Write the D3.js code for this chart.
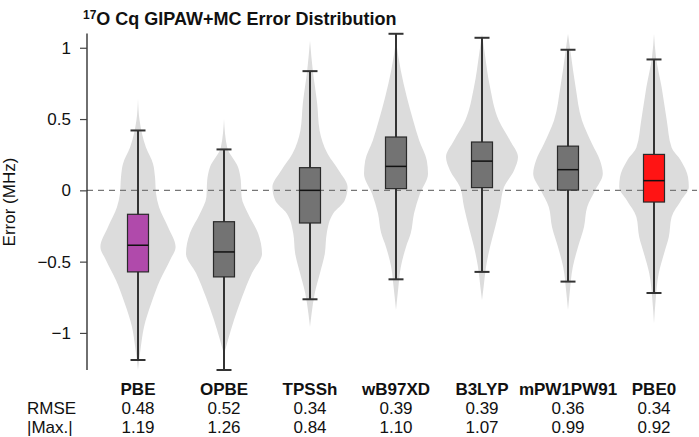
<!DOCTYPE html>
<html>
<head>
<meta charset="utf-8">
<script src="https://cdn.jsdelivr.net/npm/d3@7"></script>
<style>
  body { margin: 0; background: #fff; }
  svg { display: block; font-family: "Liberation Sans", Arial, Helvetica, sans-serif; }
</style>
</head>
<body>
<div id="chart"></div>
<script>
// Width and height for the SVG
var width = 699, height = 437;

// Methods along the x axis
var methods = ["PBE", "OPBE", "TPSSh", "wB97XD", "B3LYP", "mPW1PW91", "PBE0"];

// Box plot statistics (MHz)
var whiskerLow  = [-1.19, -1.26, -0.764, -0.624, -0.572, -0.64, -0.72];
var quart1      = [-0.572, -0.607, -0.229, 0.012, 0.019, 0.002, -0.082];
var medians     = [-0.385, -0.432, 0.0, 0.168, 0.205, 0.145, 0.068];
var quart3      = [-0.168, -0.22, 0.159, 0.374, 0.339, 0.31, 0.252];
var whiskerHigh = [0.42, 0.287, 0.836, 1.098, 1.07, 0.986, 0.918];

// Violin outlines: [error, relative density]
var densPBE = [[0.645,0],[0.49,0.04],[0.30,0.2],[0.187,0.375],[0.093,0.425],[-0.02,0.45],[-0.117,0.525],
  [-0.257,0.75],[-0.397,0.94],[-0.49,0.8],[-0.63,0.55],[-0.794,0.33],[-0.958,0.15],[-1.098,0.07],[-1.26,0]];
var densOPBE = [[0.50,0],[0.30,0.08],[0.163,0.35],[0.07,0.42],[-0.047,0.44],[-0.163,0.6],[-0.30,0.85],
  [-0.444,0.95],[-0.58,0.7],[-0.75,0.45],[-0.91,0.25],[-1.05,0.1],[-1.15,0]];
var densTPSSh = [[1.05,0],[0.84,0.07],[0.607,0.18],[0.42,0.24],[0.257,0.44],[0.14,0.72],[0.023,0.94],
  [-0.07,0.87],[-0.163,0.58],[-0.30,0.42],[-0.444,0.37],[-0.58,0.25],[-0.72,0.12],[-0.864,0.04],[-0.958,0]];
var densWB97XD = [[1.05,0],[0.84,0.12],[0.654,0.27],[0.49,0.43],[0.35,0.58],[0.21,0.77],[0.117,0.8],
  [-0.023,0.6],[-0.163,0.45],[-0.30,0.37],[-0.397,0.25],[-0.537,0.12],[-0.678,0.06],[-0.84,0]];
var densB3LYP = [[1.098,0],[0.958,0.07],[0.724,0.2],[0.49,0.42],[0.35,0.7],[0.233,0.9],[0.14,0.8],
  [0.023,0.55],[-0.117,0.45],[-0.257,0.33],[-0.397,0.2],[-0.537,0.1],[-0.678,0.04],[-0.77,0]];
var densMPW1PW91 = [[1.098,0],[0.958,0.07],[0.724,0.19],[0.49,0.35],[0.327,0.6],[0.21,0.8],[0.117,0.87],
  [0,0.68],[-0.117,0.48],[-0.257,0.4],[-0.397,0.25],[-0.537,0.12],[-0.724,0.04],[-0.84,0]];
var densPBE0 = [[1.098,0],[0.934,0.05],[0.724,0.19],[0.49,0.32],[0.30,0.44],[0.21,0.67],[0.093,0.85],
  [0.023,0.87],[-0.07,0.68],[-0.187,0.44],[-0.327,0.37],[-0.444,0.25],[-0.58,0.12],[-0.77,0.04],[-0.934,0]];
var densities = [densPBE, densOPBE, densTPSSh, densWB97XD, densB3LYP, densMPW1PW91, densPBE0];

// Summary rows under the axis
var rmse = ["0.48", "0.52", "0.34", "0.39", "0.39", "0.36", "0.34"];
var maxErr = ["1.19", "1.26", "0.84", "1.10", "1.07", "0.99", "0.92"];

// Y ticks
var yTicks = [-1, -0.5, 0, 0.5, 1];

// Box colours (PBE and PBE0 highlighted)
var boxColors = ["#b04aab", "#737373", "#737373", "#737373", "#737373", "#737373", "#ff1414"];

var svg = d3.select("#chart").append("svg")
    .attr("width", width)
    .attr("height", height);

var x = d3.scalePoint()
    .domain(methods)
    .range([138, 654]);

var y = d3.scaleLinear()
    .domain([-1.26, 1.1])
    .range([370, 33.5]);

var w = d3.scaleLinear()
    .domain([0, 1])
    .range([0, 40]);

var boxW = 21, capW = 15;

// Violins
var violinGroup = svg.append("g");
densities.forEach(function(dens, i) {
    var cx = x(methods[i]);
    var area = d3.area()
        .x0(function(d) { return cx - w(d[1]); })
        .x1(function(d) { return cx + w(d[1]); })
        .y(function(d) { return y(d[0]); })
        .curve(d3.curveMonotoneY);
    violinGroup.append("path")
        .attr("d", area(dens))
        .attr("fill", "#dcdcdc");
});

// Zero reference line
svg.append("line")
    .attr("x1", 87).attr("x2", 697)
    .attr("y1", y(0)).attr("y2", y(0))
    .attr("stroke", "#777")
    .attr("stroke-width", 1.3)
    .attr("stroke-dasharray", "6,5");

// Whiskers and boxes
var boxGroup = svg.append("g");
methods.forEach(function(m, i) {
    var cx = x(m);
    boxGroup.append("line")
        .attr("x1", cx).attr("x2", cx)
        .attr("y1", y(whiskerLow[i])).attr("y2", y(whiskerHigh[i]))
        .attr("stroke", "#333").attr("stroke-width", 2);
    [whiskerLow[i], whiskerHigh[i]].forEach(function(v) {
        boxGroup.append("line")
            .attr("x1", cx - capW / 2).attr("x2", cx + capW / 2)
            .attr("y1", y(v)).attr("y2", y(v))
            .attr("stroke", "#333").attr("stroke-width", 2);
    });
    boxGroup.append("rect")
        .attr("x", cx - boxW / 2)
        .attr("y", y(quart3[i]))
        .attr("width", boxW)
        .attr("height", y(quart1[i]) - y(quart3[i]))
        .attr("fill", boxColors[i])
        .attr("stroke", "#2a2a2a")
        .attr("stroke-width", 1.2);
    boxGroup.append("line")
        .attr("x1", cx - boxW / 2).attr("x2", cx + boxW / 2)
        .attr("y1", y(medians[i])).attr("y2", y(medians[i]))
        .attr("stroke", "#111").attr("stroke-width", 1.5);
});

// Y axis
var yAxis = d3.axisLeft(y)
    .tickValues(yTicks)
    .tickSize(7)
    .tickPadding(9)
    .tickFormat(function(d) { return d === 0 ? "0" : d3.format("")(d); });

var axisG = svg.append("g")
    .attr("transform", "translate(87,0)")
    .call(yAxis);
axisG.select(".domain")
    .attr("d", "M0," + y.range()[0] + "V" + y.range()[1])
    .attr("stroke", "#222").attr("stroke-width", 1.3);
axisG.selectAll(".tick line").attr("stroke", "#444").attr("stroke-width", 1.2);
axisG.selectAll(".tick text")
    .attr("font-size", 17)
    .attr("font-family", "Liberation Sans, Arial, sans-serif")
    .attr("fill", "#111");

// Y axis title
svg.append("text")
    .attr("transform", "translate(15,202) rotate(-90)")
    .attr("text-anchor", "middle")
    .attr("font-size", 17)
    .attr("fill", "#111")
    .text("Error (MHz)");

// Title
var title = svg.append("text")
    .attr("x", 83)
    .attr("y", 25)
    .attr("font-size", 18)
    .attr("font-weight", "bold")
    .attr("fill", "#111");
title.append("tspan")
    .attr("font-size", 12)
    .attr("dy", -6)
    .text("17");
title.append("tspan")
    .attr("dy", 6)
    .text("O Cq GIPAW+MC Error Distribution");

// Category names and summary rows
var labels = svg.append("g")
    .attr("font-size", 17)
    .attr("fill", "#111")
    .attr("text-anchor", "middle");
methods.forEach(function(m, i) {
    var cx = x(m);
    labels.append("text").attr("x", cx).attr("y", 395)
        .attr("font-weight", "bold").text(m);
    labels.append("text").attr("x", cx).attr("y", 414.2).text(rmse[i]);
    labels.append("text").attr("x", cx).attr("y", 433.4).text(maxErr[i]);
});
labels.append("text").attr("x", 27).attr("y", 414.2)
    .attr("text-anchor", "start").text("RMSE");
labels.append("text").attr("x", 27).attr("y", 433.4)
    .attr("text-anchor", "start").text("|Max.|");
</script>
</body>
</html>
